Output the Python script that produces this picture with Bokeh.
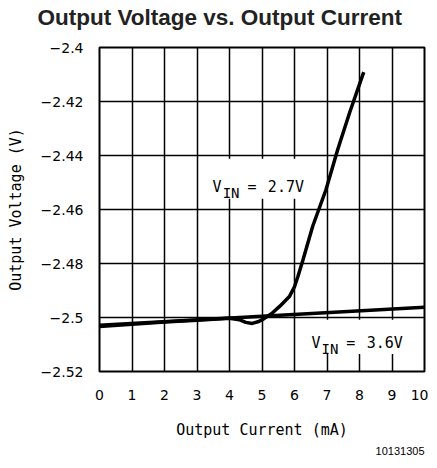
from bokeh.plotting import figure
from bokeh.models import Label, Range1d, FixedTicker, BoxAnnotation, Title
from bokeh.embed import file_html
from bokeh.resources import INLINE

# data
x_36 = [0, 10]
y_36 = [-2.5029, -2.4962]

x_27 = [0, 1, 2, 3, 4, 4.3, 4.5, 4.7, 4.9, 5.05, 5.3, 5.55, 5.85, 6.0, 6.1, 6.26, 6.56, 6.97, 7.33, 7.7, 8.13]
y_27 = [-2.5033, -2.5025, -2.5017, -2.5010, -2.5003, -2.5008, -2.5018, -2.5022, -2.5015, -2.5005, -2.4985,
        -2.4958, -2.4921, -2.4886, -2.4850, -2.4787, -2.4662, -2.4526, -2.4378, -2.4240, -2.4091]

x_ticks = [0, 1, 2, 3, 4, 5, 6, 7, 8, 9, 10]
y_ticks = [-2.52, -2.5, -2.48, -2.46, -2.44, -2.42, -2.4]
y_tick_labels = {-2.52: "\u22122.52", -2.5: "\u22122.5", -2.48: "\u22122.48", -2.46: "\u22122.46",
                 -2.44: "\u22122.44", -2.42: "\u22122.42", -2.4: "\u22122.4"}

TICK_FONT = "DejaVu Sans"
LABEL_FONT = "DejaVu Sans Mono"

p = figure(width=428, height=461, output_backend="svg", toolbar_location=None,
           x_range=Range1d(0, 10), y_range=Range1d(-2.52, -2.4),
           min_border_left=99, min_border_right=4, min_border_top=47, min_border_bottom=90,
           title=None)
p.outline_line_color = "black"
p.outline_line_width = 2
p.background_fill_color = "white"
p.border_fill_color = "white"

for ax in (p.xaxis[0], p.yaxis[0]):
    ax.axis_line_color = None
    ax.major_tick_line_color = None
    ax.minor_tick_line_color = None
    ax.major_label_text_color = "black"
    ax.major_label_text_font = TICK_FONT
    ax.major_label_text_font_size = "14px"
    ax.axis_label_text_font = LABEL_FONT
    ax.axis_label_text_font_size = "15px"
    ax.axis_label_text_font_style = "normal"
    ax.axis_label_text_color = "black"

p.xaxis.ticker = FixedTicker(ticks=x_ticks)
p.yaxis.ticker = FixedTicker(ticks=y_ticks)
p.yaxis.major_label_overrides = y_tick_labels
p.xaxis.major_label_standoff = 12
p.yaxis.major_label_standoff = 10
p.xaxis.axis_label = "Output Current (mA)"
p.yaxis.axis_label = "Output Voltage (V)"
p.xaxis.axis_label_standoff = 18
p.yaxis.axis_label_standoff = 13

p.xgrid.ticker = FixedTicker(ticks=x_ticks)
p.ygrid.ticker = FixedTicker(ticks=y_ticks)
for g in (p.xgrid[0], p.ygrid[0]):
    g.grid_line_color = "black"
    g.grid_line_width = 1.5
    g.grid_line_alpha = 1

# white label boxes hiding grid behind labels
p.add_layout(BoxAnnotation(left=3.25, right=6.6, top=-2.4412, bottom=-2.4560,
                           fill_color="white", fill_alpha=1, line_color=None, level="underlay"))
p.add_layout(BoxAnnotation(left=6.35, right=9.75, top=-2.5008, bottom=-2.5135,
                           fill_color="white", fill_alpha=1, line_color=None, level="underlay"))

p.line(x_36, y_36, line_color="black", line_width=3.5)
p.line(x_27, y_27, line_color="black", line_width=3.5, line_join="round")

def vin_label(x, y, val):
    p.add_layout(Label(x=x, y=y, text="V", text_font=LABEL_FONT, text_font_size="15px",
                       text_color="black", text_baseline="alphabetic"))
    p.add_layout(Label(x=x + 0.31, y=y - 0.0024, text="IN", text_font=LABEL_FONT, text_font_size="14px",
                       text_color="black", text_baseline="alphabetic"))
    p.add_layout(Label(x=x + 1.07, y=y, text="=", text_font=LABEL_FONT,
                       text_font_size="15px", text_color="black", text_baseline="alphabetic"))
    p.add_layout(Label(x=x + 1.7, y=y, text=val, text_font=LABEL_FONT,
                       text_font_size="15px", text_color="black", text_baseline="alphabetic"))

vin_label(3.48, -2.4515, "2.7V")
vin_label(6.52, -2.5093, "3.6V")

# spacer between title and frame, then title
spacer = Title(text=" ", text_font_size="14px", standoff=0)
p.add_layout(spacer, "above")
title = Title(text="Output Voltage vs. Output Current", align="left", offset=-62,
              text_font="Liberation Sans", text_font_style="bold",
              text_font_size="22.5px", text_color="#222222", standoff=0)
p.add_layout(title, "above")
num = Title(text="10131305", align="right", offset=0, text_font="Liberation Sans",
            text_font_size="11px", text_font_style="normal", text_color="black", standoff=6)
p.add_layout(num, "below")

open("out.html", "w").write(file_html(p, INLINE))
